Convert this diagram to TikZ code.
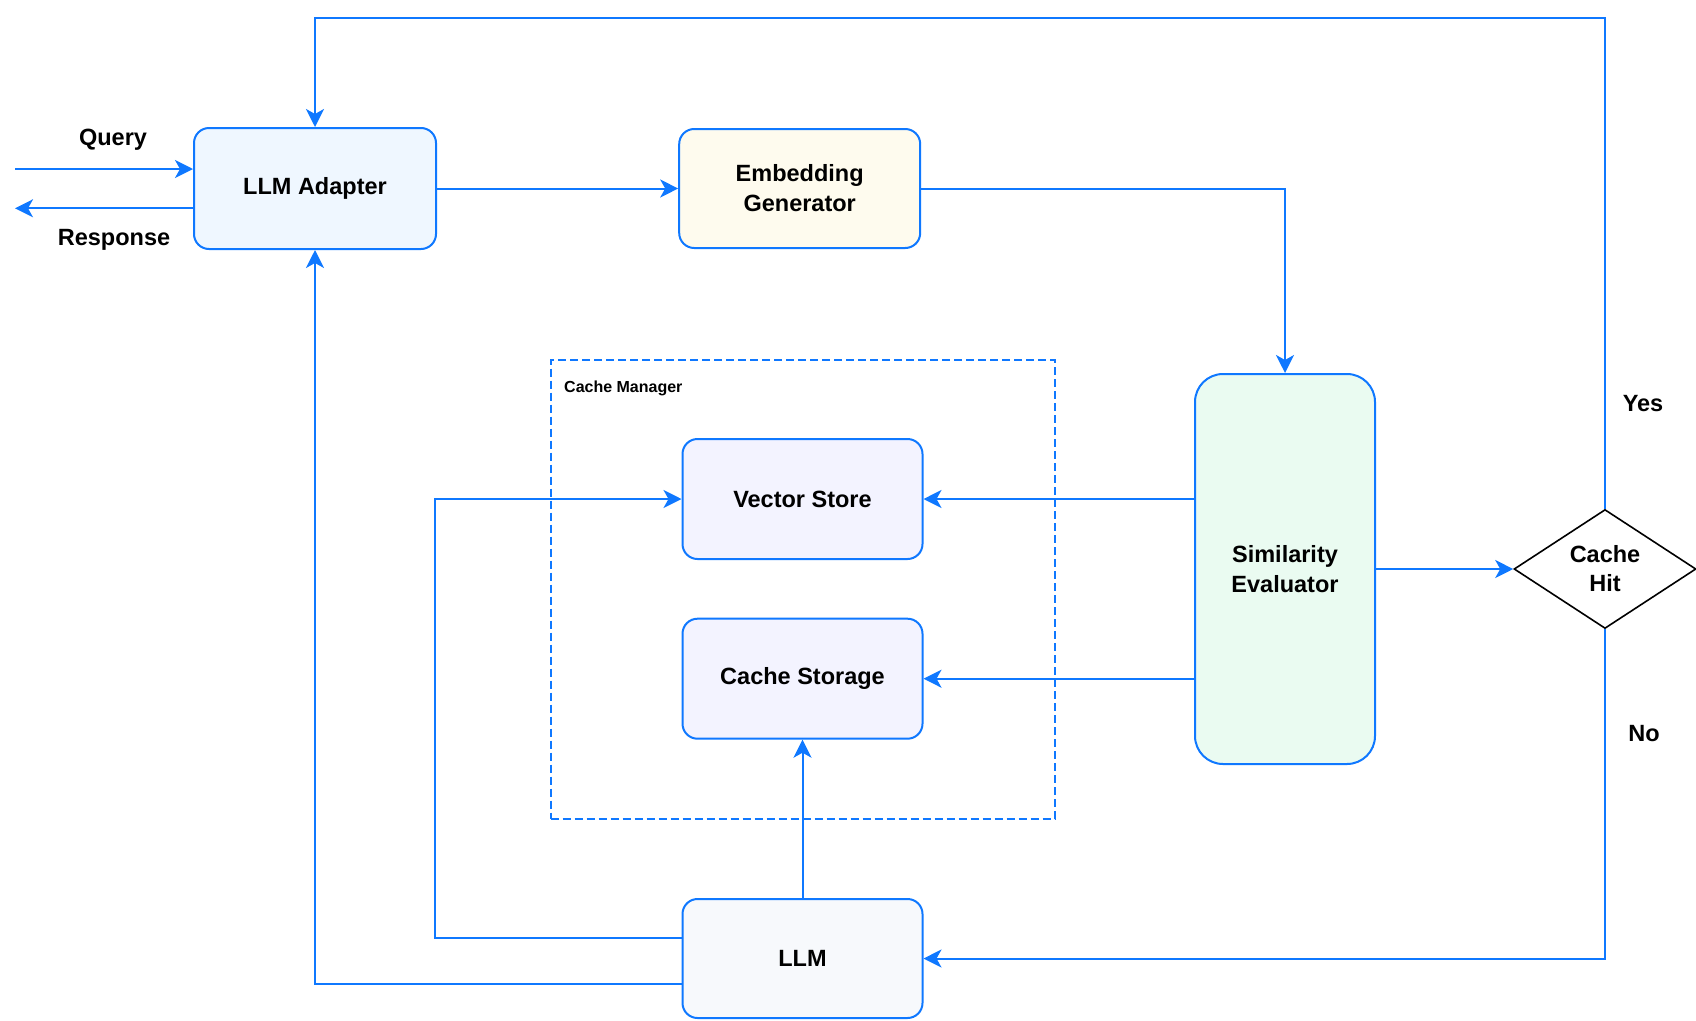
\documentclass[tikz,border=0pt]{standalone}
\usepackage{fontspec}
\setmainfont{Liberation Sans}
\usetikzlibrary{shapes.geometric,arrows.meta}
\definecolor{lblue}{HTML}{0F78FF}
\definecolor{fadapter}{HTML}{EFF7FF}
\definecolor{fembed}{HTML}{FEFBEE}
\definecolor{fstore}{HTML}{F3F3FF}
\definecolor{fsim}{HTML}{EAFBF1}
\definecolor{fllm}{HTML}{F7F9FC}
\begin{document}
\begin{tikzpicture}[x=1pt,y=-1pt,
  box/.style={draw=lblue,line width=2pt,rounded corners=15pt,align=center,inner sep=0pt,
    font=\fontsize{23.5}{30}\selectfont\bfseries},
  arr/.style={draw=lblue,line width=2pt,-{Stealth[length=18pt,width=18pt,inset=5pt]}},
  lbl/.style={font=\fontsize{23.5}{30}\selectfont\bfseries,inner sep=0pt}]
\useasboundingbox (0,0) rectangle (1696,1020);
\node[box,fill=fadapter,minimum width=242pt,minimum height=121pt] (adapter) at (315,188.5) {LLM Adapter};
\node[box,fill=fembed,minimum width=241pt,minimum height=119pt] (embed) at (799.7,188.5) {Embedding\\Generator};
\node[box,fill=fsim,minimum width=180pt,minimum height=390pt,rounded corners=28pt] (se) at (1285,569) {Similarity\\Evaluator};
\node[diamond,draw=black,line width=1.6pt,minimum width=182pt,minimum height=119pt,inner sep=0pt,align=center,
  font=\fontsize{23.5}{29}\selectfont\bfseries] (hit) at (1605,569) {Cache\\Hit};
\node[draw=lblue,line width=2pt,dash pattern=on 8pt off 4pt,minimum width=504pt,minimum height=459pt,inner sep=0pt] (cm) at (802.5,589) {};
\node[anchor=west,inner sep=0pt,font=\fontsize{16}{19}\selectfont\bfseries] (cmlabel) at (564,388.5) {Cache Manager};
\node[box,fill=fstore,minimum width=240pt,minimum height=120pt] (vs) at (802.5,499) {Vector Store};
\node[box,fill=fstore,minimum width=240pt,minimum height=120pt] (cs) at (802.5,678.7) {Cache Storage};
\node[box,fill=fllm,minimum width=240pt,minimum height=119pt] (llm) at (802.5,958.5) {LLM};
\node[lbl] (query) at (113,140) {Query};
\node[lbl] (resp) at (114,240) {Response};
\node[lbl] (yes) at (1643,404) {Yes};
\node[lbl] (no) at (1644,734) {No};
\coordinate (qin) at (15,169);
\coordinate (rout) at (15,208.3);
\coordinate (ytop) at (0,18.4);
\coordinate (xvs) at (434.8,0);
\coordinate (yl1) at (0,937.8);
\coordinate (yl2) at (0,984.3);
\draw[arr] (qin) -- (qin -| adapter.west);
\draw[arr] (rout -| adapter.west) -- (rout);
\draw[arr] (adapter.east) -- (embed.west);
\draw[arr] (embed.east) -| (se.north);
\draw[arr] (se.east) -- (hit.west);
\draw[arr] (hit.north) |- (ytop -| adapter.north) -- (adapter.north);
\draw[arr] (hit.south) |- (llm.east);
\draw[arr] (vs.east -| se.west) -- (vs.east);
\draw[arr] (cs.east -| se.west) -- (cs.east);
\draw[arr] (llm.north) -- (cs.south);
\draw[arr] (yl1 -| llm.west) -- (yl1 -| xvs) -- (vs.west -| xvs) -- (vs.west);
\draw[arr] (yl2 -| llm.west) -- (adapter.south |- yl2) -- (adapter.south);
\end{tikzpicture}
\end{document}
